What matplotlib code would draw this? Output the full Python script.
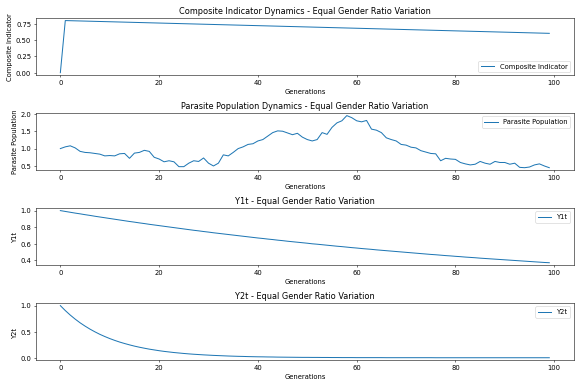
import numpy as np, matplotlib; matplotlib.use('Agg')
import matplotlib.pyplot as plt

generations = list(range(100))

composite = [0.0, 0.800, 0.798, 0.796, 0.794, 0.792, 0.790, 0.788, 0.786, 0.784,
             0.782, 0.780, 0.778, 0.776, 0.774, 0.772, 0.770, 0.768, 0.766, 0.764,
             0.762, 0.760, 0.758, 0.756, 0.754, 0.752, 0.750, 0.748, 0.746, 0.744,
             0.742, 0.740, 0.738, 0.736, 0.734, 0.732, 0.730, 0.728, 0.726, 0.724,
             0.722, 0.720, 0.718, 0.716, 0.714, 0.712, 0.710, 0.708, 0.706, 0.704,
             0.702, 0.700, 0.698, 0.696, 0.694, 0.692, 0.690, 0.688, 0.686, 0.684,
             0.682, 0.680, 0.678, 0.676, 0.674, 0.672, 0.670, 0.668, 0.666, 0.664,
             0.662, 0.660, 0.658, 0.656, 0.654, 0.652, 0.650, 0.648, 0.646, 0.644,
             0.642, 0.640, 0.638, 0.636, 0.634, 0.632, 0.630, 0.628, 0.626, 0.624,
             0.622, 0.620, 0.618, 0.616, 0.614, 0.612, 0.610, 0.608, 0.606, 0.604]

parasite = [1.00, 1.05, 1.08, 1.02, 0.92, 0.89, 0.88, 0.86, 0.84, 0.79,
            0.80, 0.79, 0.85, 0.86, 0.72, 0.87, 0.89, 0.95, 0.92, 0.75,
            0.70, 0.62, 0.65, 0.62, 0.48, 0.48, 0.58, 0.65, 0.63, 0.73,
            0.58, 0.50, 0.58, 0.82, 0.79, 0.89, 1.00, 1.05, 1.12, 1.14,
            1.22, 1.26, 1.36, 1.46, 1.51, 1.50, 1.45, 1.40, 1.44, 1.33,
            1.26, 1.22, 1.26, 1.46, 1.41, 1.61, 1.74, 1.80, 1.95, 1.89,
            1.80, 1.77, 1.81, 1.56, 1.53, 1.46, 1.31, 1.26, 1.22, 1.12,
            1.10, 1.04, 1.02, 0.94, 0.90, 0.86, 0.85, 0.65, 0.72, 0.70,
            0.69, 0.60, 0.56, 0.53, 0.55, 0.63, 0.58, 0.55, 0.63, 0.60,
            0.60, 0.55, 0.58, 0.46, 0.45, 0.47, 0.53, 0.56, 0.50, 0.45]

y1t = [1.000, 0.990, 0.980, 0.970, 0.961, 0.951, 0.942, 0.932, 0.923, 0.914,
       0.905, 0.896, 0.887, 0.878, 0.869, 0.861, 0.852, 0.844, 0.835, 0.827,
       0.819, 0.811, 0.803, 0.795, 0.787, 0.779, 0.771, 0.763, 0.756, 0.748,
       0.741, 0.733, 0.726, 0.719, 0.712, 0.705, 0.698, 0.691, 0.684, 0.677,
       0.670, 0.664, 0.657, 0.651, 0.644, 0.638, 0.631, 0.625, 0.619, 0.613,
       0.607, 0.600, 0.595, 0.589, 0.583, 0.577, 0.571, 0.566, 0.560, 0.554,
       0.549, 0.543, 0.538, 0.533, 0.527, 0.522, 0.517, 0.512, 0.507, 0.502,
       0.497, 0.492, 0.487, 0.482, 0.477, 0.472, 0.468, 0.463, 0.458, 0.454,
       0.449, 0.445, 0.440, 0.436, 0.432, 0.427, 0.423, 0.419, 0.415, 0.411,
       0.407, 0.403, 0.399, 0.395, 0.391, 0.387, 0.383, 0.379, 0.375, 0.372]

y2t = [1.000, 0.905, 0.819, 0.741, 0.670, 0.607, 0.549, 0.497, 0.449, 0.407,
       0.368, 0.333, 0.301, 0.273, 0.247, 0.223, 0.202, 0.183, 0.165, 0.150,
       0.135, 0.122, 0.111, 0.100, 0.091, 0.082, 0.074, 0.067, 0.061, 0.055,
       0.050, 0.045, 0.041, 0.037, 0.033, 0.030, 0.027, 0.025, 0.022, 0.020,
       0.018, 0.017, 0.015, 0.014, 0.012, 0.011, 0.010, 0.009, 0.008, 0.007,
       0.007, 0.006, 0.006, 0.005, 0.005, 0.004, 0.004, 0.003, 0.003, 0.003,
       0.002, 0.002, 0.002, 0.002, 0.002, 0.002, 0.001, 0.001, 0.001, 0.001,
       0.001, 0.001, 0.001, 0.001, 0.001, 0.001, 0.000, 0.000, 0.000, 0.000,
       0.000, 0.000, 0.000, 0.000, 0.000, 0.000, 0.000, 0.000, 0.000, 0.000,
       0.000, 0.000, 0.000, 0.000, 0.000, 0.000, 0.000, 0.000, 0.000, 0.000]

panels = [(composite, 'Composite Indicator', 'Composite Indicator Dynamics - Equal Gender Ratio Variation', 'lower right'),
          (parasite, 'Parasite Population', 'Parasite Population Dynamics - Equal Gender Ratio Variation', 'upper right'),
          (y1t, 'Y1t', 'Y1t - Equal Gender Ratio Variation', 'upper right'),
          (y2t, 'Y2t', 'Y2t - Equal Gender Ratio Variation', 'upper right')]

fig = plt.figure(figsize=(12, 8), dpi=581/12)
for i, (vals, name, title, loc) in enumerate(panels):
    ax = fig.add_subplot(4, 1, i+1)
    ax.plot(generations, vals, label=name)
    ax.set_title(title)
    ax.set_xlabel('Generations')
    ax.set_ylabel(name)
    ax.legend(loc=loc)
plt.tight_layout()
plt.savefig('out.png', dpi=581/12)
